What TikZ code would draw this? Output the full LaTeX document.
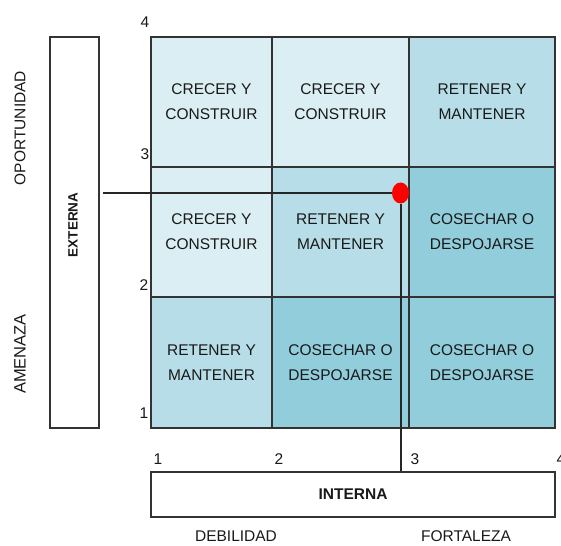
\documentclass[tikz,border=0pt]{standalone}
\usepackage{fontspec}
\setmainfont{Liberation Sans}
\usetikzlibrary{shapes.geometric}
\begin{document}
\begin{tikzpicture}[x=1pt,y=-1pt,
  txt/.style={text=black!90, font=\fontsize{15.5}{25}\selectfont, inner sep=0pt},
  cell/.style={txt, draw=black!80, line width=1.2pt, align=center, inner sep=0pt},
  lightc/.style={cell, fill=cellLight},
  midc/.style={cell, fill=cellMid},
  darkc/.style={cell, fill=cellDark},
  axisbox/.style={draw=black!80, line width=1.2pt, fill=white, inner sep=0pt},
  boldtxt/.style={txt, font=\bfseries\fontsize{15.5}{18}\selectfont},
  marker/.style={line width=2pt, draw=black!85},
  reddot/.style={ellipse, fill=red, minimum width=17pt, minimum height=21pt, inner sep=0pt}]
\definecolor{cellLight}{HTML}{DAEEF3}
\definecolor{cellMid}{HTML}{B7DEE8}
\definecolor{cellDark}{HTML}{92CDDC}
\useasboundingbox (0,0) rectangle (561,545);

% matrix cells: columns 151-272-409-555, rows 37-167-297-428
\node[lightc, minimum width=121pt, minimum height=130pt] (c11) at (211.5,102) {CRECER Y\\CONSTRUIR};
\node[lightc, minimum width=137pt, minimum height=130pt] (c12) at (340.5,102) {CRECER Y\\CONSTRUIR};
\node[midc,   minimum width=146pt, minimum height=130pt] (c13) at (482,102)   {RETENER Y\\MANTENER};
\node[lightc, minimum width=121pt, minimum height=130pt] (c21) at (211.5,232) {CRECER Y\\CONSTRUIR};
\node[midc,   minimum width=137pt, minimum height=130pt] (c22) at (340.5,232) {RETENER Y\\MANTENER};
\node[darkc,  minimum width=146pt, minimum height=130pt] (c23) at (482,232)   {COSECHAR O\\DESPOJARSE};
\node[midc,   minimum width=121pt, minimum height=131pt] (c31) at (211.5,362.5) {RETENER Y\\MANTENER};
\node[darkc,  minimum width=137pt, minimum height=131pt] (c32) at (340.5,362.5) {COSECHAR O\\DESPOJARSE};
\node[darkc,  minimum width=146pt, minimum height=131pt] (c33) at (482,362.5)   {COSECHAR O\\DESPOJARSE};

% axis boxes
\node[axisbox, minimum width=49pt, minimum height=391pt] (ext) at (74.5,232.5) {};
\node[boldtxt, rotate=90, font=\bfseries\fontsize{13.5}{16}\selectfont] (extlabel) at (73,225) {EXTERNA};
\node[axisbox, minimum width=404pt, minimum height=45pt] (int) at (353,494.5) {};
\node[boldtxt] (intlabel) at (353,494) {INTERNA};

% side labels
\node[txt, rotate=90] (oport) at (20,128) {OPORTUNIDAD};
\node[txt, rotate=90, font=\fontsize{16.5}{20}\selectfont] (amen) at (20,354) {AMENAZA};
\node[txt] (deb) at (236,536) {DEBILIDAD};
\node[txt] (fort) at (466,536) {FORTALEZA};

% scale numbers
\node[txt] (y4) at (145,22) {4};
\node[txt] (y3) at (145,154) {3};
\node[txt] (y2) at (144,285) {2};
\node[txt] (y1) at (144,413) {1};
\node[txt] (x1) at (158,459) {1};
\node[txt] (x2) at (279,459) {2};
\node[txt] (x3) at (415,459) {3};
\node[txt] (x4) at (561,459) {4};

% position marker
\coordinate (hstart) at (103,193);
\node[reddot] (dot) at (400.5,193) {};
\draw[marker] (hstart) -- (dot.west);
\draw[marker] (dot.south) -- (dot.south |- int.north);
\end{tikzpicture}
\end{document}
